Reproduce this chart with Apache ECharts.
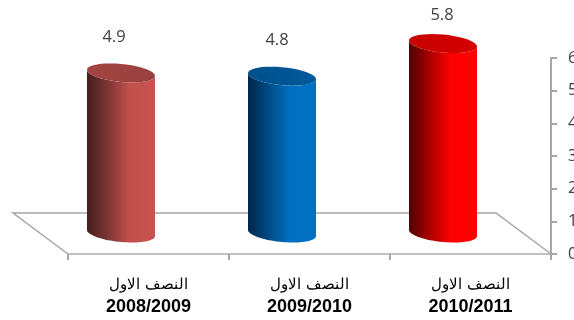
<!DOCTYPE html>
<html><head><meta charset="utf-8">
<script src="https://cdn.jsdelivr.net/npm/echarts@6/dist/echarts.min.js"></script>
<style>html,body{margin:0;padding:0;background:#fff}#c{width:574px;height:320px}</style>
</head><body><div id="c"></div>
<script>
const periodLabel = 'النصف الاول';
const categories = ['2008/2009', '2009/2010', '2010/2011'];
const values = [4.9, 4.8, 5.8];
const yTicks = [0, 1, 2, 3, 4, 5, 6];

const palettes = [
  {side: ['#451d1c', '#7c3533', '#c0504d', '#c8524f'], top: ['#a34442', '#99403e']},
  {side: ['#00274a', '#004a84', '#0070c0', '#0070c4'], top: ['#00508a', '#005a9c']},
  {side: ['#4f0000', '#a80000', '#ff0000', '#ff0000'], top: ['#c80000', '#d40000']}
];
const labelDx = [-7, -5, -1];
const labelDy = [-36, -36, -28];
const GRID = {left: 68, right: 23, top: 58, bottom: 66};
const RX = 34, RY = 9, TILT = 0.09;

function ellipsePoint(cx, cy, a) {
  const x = RX * Math.cos(a), y = RY * Math.sin(a);
  return [cx + x, cy + y + x * TILT];
}
function arc(cx, cy, from, to) {
  const pts = [];
  for (let i = 0; i <= 40; i++) pts.push(ellipsePoint(cx, cy, from + (to - from) * i / 40));
  return pts;
}
function hGrad(stops) {
  const n = stops.length - 1;
  return new echarts.graphic.LinearGradient(0, 0, 1, 0,
    stops.map((c, i) => ({offset: n === 3 ? [0, 0.3, 0.62, 1][i] : i / n, color: c})));
}
function renderCylinder(params, api) {
  const i = params.dataIndex;
  const base = api.coord([api.value(0), 0]);
  const top = api.coord([api.value(0), api.value(1)]);
  const cx = base[0], yb = base[1], yt = top[1];
  const side = arc(cx, yt, Math.PI, 0).concat(arc(cx, yb, 0, Math.PI));
  const cap = arc(cx, yt, 0, Math.PI * 2);
  return {type: 'group', children: [
    {type: 'polygon', shape: {points: side}, style: {fill: hGrad(palettes[i].side)}},
    {type: 'polygon', shape: {points: cap}, style: {fill: hGrad(palettes[i].top)}},
    {type: 'text', x: cx + labelDx[i], y: yt + labelDy[i], style: {
      text: values[i].toFixed(1), fill: '#404040', fontSize: 16.5,
      fontFamily: 'Open Sans', align: 'center', verticalAlign: 'middle'}}
  ]};
}
function renderFloor(params, api) {
  const o = api.coord(['2008/2009', 0]);
  const r = api.coord(['2010/2011', 0]);
  const half = (r[0] - o[0]) / 4;
  const l = o[0] - half, rr = r[0] + half;
  const dx = 55, dy = 41;
  return {type: 'polyline', shape: {points: [[l, o[1]], [l - dx, o[1] - dy], [rr - dx, o[1] - dy], [rr, o[1]]]},
    style: {stroke: '#a6a6a6', lineWidth: 1.5, fill: null}, silent: true};
}

const chart = echarts.init(document.getElementById('c'), null, {renderer: 'canvas'});
chart.setOption({
  animation: false,
  backgroundColor: '#fff',
  grid: [
    {left: GRID.left, right: GRID.right, top: GRID.top, bottom: GRID.bottom, outerBoundsMode: 'none'},
    {left: 40.5, right: 50.5, top: 37, bottom: 87, outerBoundsMode: 'none'}
  ],
  xAxis: [
    {type: 'category', gridIndex: 0, data: categories,
     axisLine: {lineStyle: {color: '#c0c0c0', width: 2}},
     axisTick: {show: true, alignWithLabel: false, length: 6, lineStyle: {color: '#a6a6a6', width: 2}},
     axisLabel: {
       margin: 20, interval: 0,
       formatter: v => '{a|' + periodLabel + '}\n{b|' + v + '}',
       rich: {
         a: {fontFamily: 'Liberation Sans', fontSize: 14.5, color: '#000', lineHeight: 22},
         b: {fontFamily: 'Liberation Sans', fontSize: 18, fontWeight: 'bold', color: '#000', lineHeight: 22}
       }
     }},
    {type: 'category', gridIndex: 1, data: categories, show: false}
  ],
  yAxis: [
    {type: 'value', gridIndex: 0, position: 'right', min: 0, max: yTicks[yTicks.length - 1], interval: 1,
     axisLine: {show: true, lineStyle: {color: '#a6a6a6', width: 2}},
     axisTick: {show: true, length: 6, lineStyle: {color: '#a6a6a6', width: 2}},
     axisLabel: {margin: 17, color: '#404040', fontSize: 16.5, fontFamily: 'Open Sans', showMaxLabel: true, showMinLabel: true},
     splitLine: {show: false}},
    {type: 'value', gridIndex: 1, min: 0, max: 6, show: false, splitLine: {show: false}}
  ],
  series: [
    {type: 'custom', xAxisIndex: 0, yAxisIndex: 0, z: 1, clip: false, silent: true,
     data: [[categories[0], 0]], encode: {x: 0, y: 1}, renderItem: renderFloor},
    {type: 'custom', xAxisIndex: 1, yAxisIndex: 1, z: 3, clip: false, silent: true,
     data: categories.map((c, i) => [c, values[i]]), encode: {x: 0, y: 1}, renderItem: renderCylinder}
  ]
});
</script></body></html>
